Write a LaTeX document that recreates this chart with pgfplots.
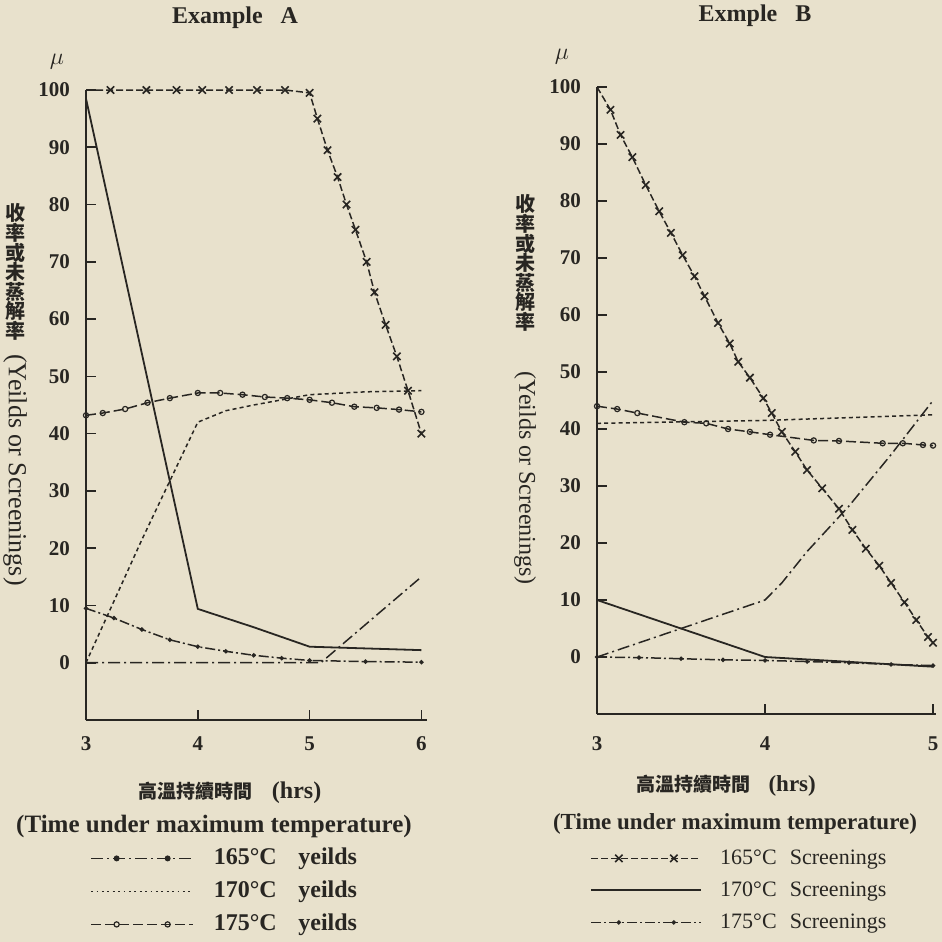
\documentclass[border=0pt]{standalone}
\usepackage{fontspec}
\setmainfont{Liberation Serif}
\newfontfamily\cjk{Noto Sans CJK TC}
\usepackage{pgfplots}
\pgfplotsset{compat=1.18}
\definecolor{paper}{RGB}{232,225,204}
\definecolor{ink}{RGB}{40,38,34}

\pgfplotsset{
  panel/.style={
    scale only axis,
    axis lines*=left,
    axis line style={ink, line width=1.3pt},
    ymin=-10, ymax=100,
    ytick={0,10,...,100},
    tick style={ink, line width=0.8pt},
    major tick length=5pt,
    tick align=inside,
    /pgf/number format/assume math mode=true,
    tick label style={font=\fontsize{10.5}{12}\selectfont\bfseries, text=ink},
    yticklabel style={xshift=-4.5pt},
    clip=false,
    legend cell align=left,
    every axis plot/.append style={ink, line width=0.75pt},
  },
  s165/.style={dash pattern=on 3.5pt off 1.5pt, mark=x, mark phase=2, mark size=2.6pt, mark options={solid, line width=0.8pt}},
  s170/.style={solid, line width=0.9pt},
  s175/.style={dash pattern=on 5pt off 1.5pt on 1pt off 1.5pt, mark=*, mark size=0.7pt, mark options={solid}},
  y165/.style={dash pattern=on 6pt off 2pt on 1pt off 2pt},
  y170/.style={dash pattern=on 2pt off 1.6pt},
  y175/.style={dash pattern=on 5pt off 2pt, mark=o, mark size=1.3pt, mark options={solid, line width=0.6pt}},
}

\begin{document}
\begin{tikzpicture}
\begin{scope}[x=0.5pt,y=-0.5pt]
  \fill[paper] (0,0) rectangle (942,942);
  % titles
  \node[font=\fontsize{12}{14}\selectfont\bfseries, text=ink] at (235,18) {Example\ \ \ A};
  \node[font=\fontsize{12}{14}\selectfont\bfseries, text=ink] at (755,16) {Exmple\ \ \ B};
  \node[font=\fontsize{12}{14}\selectfont, text=ink] at (57,62) {$\mu$};
  \node[font=\fontsize{12}{14}\selectfont, text=ink] at (562,57) {$\mu$};
  % y labels
  \node[font=\cjk\bfseries\fontsize{10}{9.8}\selectfont, text=ink, align=center, inner sep=0pt] at (15,272) {收\\率\\或\\未\\蒸\\解\\率};
  \node[font=\cjk\bfseries\fontsize{10}{9.8}\selectfont, text=ink, align=center, inner sep=0pt] at (525,263) {收\\率\\或\\未\\蒸\\解\\率};
  \node[font=\fontsize{13}{15}\selectfont, text=ink, rotate=-90, inner sep=0pt] at (15,470) {(Yeilds or Screenings)};
  \node[font=\fontsize{12}{14}\selectfont, text=ink, rotate=-90, inner sep=0pt] at (525,478) {(Yeilds or Screenings)};
  % x labels
  \node[font=\fontsize{12}{14}\selectfont\bfseries, text=ink] at (230,793) {{\cjk\bfseries\fontsize{9.5}{11}\selectfont 高溫持續時間}\hspace{0.8em}(hrs)};
  \node[font=\fontsize{12.5}{14}\selectfont\bfseries, text=ink] at (214,826) {(Time under maximum temperature)};
  \node[font=\fontsize{11.5}{14}\selectfont\bfseries, text=ink] at (726,786) {{\cjk\bfseries\fontsize{9.5}{11}\selectfont 高溫持續時間}\hspace{0.8em}(hrs)};
  \node[font=\fontsize{11.5}{14}\selectfont\bfseries, text=ink] at (735,824) {(Time under maximum temperature)};
\end{scope}

% ---------------- Panel A ----------------
\begin{axis}[panel,
  at={(43pt,-360pt)}, anchor=south west,
  width=170.5pt, height=315pt,
  xmin=3, xmax=6.05, xtick={3,4,5,6},
  xticklabel style={yshift=-5pt},
  legend style={at={(0.0117,-0.2)}, anchor=north west, draw=none, fill=none, inner sep=0pt,
    nodes={inner sep=0pt, text height=9pt, text depth=3pt, text=ink, font=\fontsize{12}{14}\selectfont\bfseries},
    column sep=10pt, row sep=4.5pt},
  legend image code/.code={\draw[mark repeat=2, mark phase=2, #1] plot coordinates {(0pt,0pt)(12.75pt,0pt)(25.5pt,0pt)(38.25pt,0pt)(51pt,0pt)};},
]
\addplot[y165, legend image post style={mark=*, mark size=1.1pt, mark options={solid}}] coordinates {(3,0)(4,0)(5,0)(5.1,0)(6,15)};
\addlegendentry{165°C\hspace{0.9em}yeilds}
\addplot[y170, legend image post style={dash pattern=on 0.9pt off 1.8pt}] coordinates {(3,0)(3.5,21.5)(4,42)(4.25,44)(4.5,45)(5,46.8)(5.5,47.3)(6,47.5)};
\addlegendentry{170°C\hspace{0.9em}yeilds}
\addplot[y175] coordinates {(3,43.2)(3.15,43.6)(3.35,44.3)(3.55,45.4)(3.75,46.2)(4,47.1)(4.2,47.1)(4.4,46.8)(4.6,46.4)(4.8,46.2)(5,45.9)(5.2,45.4)(5.4,44.7)(5.6,44.5)(5.8,44.2)(6,43.8)};
\addlegendentry{175°C\hspace{0.9em}yeilds}
\addplot[s165, forget plot] coordinates {(3,100)(3.22,100)(3.54,100)(3.81,100)(4.04,100)(4.28,100)(4.53,100)(4.78,100)(5,99.5)(5.07,95)(5.16,89.5)(5.25,84.8)(5.33,80)(5.41,75.6)(5.51,70)(5.58,64.7)(5.68,59)(5.78,53.5)(5.88,47.5)(6,40)};
\addplot[s170, forget plot] coordinates {(3,98.5)(4,9.4)(4.5,6.2)(5,2.8)(5.5,2.5)(6,2.2)};
\addplot[s175, forget plot] coordinates {(3,9.5)(3.25,7.8)(3.5,5.8)(3.75,4.0)(4,2.8)(4.25,2.0)(4.5,1.3)(4.75,0.8)(5,0.4)(5.5,0.2)(6,0.1)};
\end{axis}

% ---------------- Panel B ----------------
\begin{axis}[panel,
  at={(298.5pt,-357pt)}, anchor=south west,
  width=169.7pt, height=313.5pt,
  xmin=3, xmax=5.02, xtick={3,4,5},
  xticklabel style={yshift=-8pt},
  legend style={at={(-0.0206,-0.2105)}, anchor=north west, draw=none, fill=none, inner sep=0pt,
    nodes={inner sep=0pt, text height=9pt, text depth=3pt, text=ink, font=\fontsize{11}{14}\selectfont},
    column sep=9pt, row sep=4pt},
  legend image code/.code={\draw[mark repeat=2, mark phase=2, #1] plot coordinates {(0pt,0pt)(13.75pt,0pt)(27.5pt,0pt)(41.25pt,0pt)(55pt,0pt)};},
]
\addplot[s165] coordinates {(3,100)(3.08,96)(3.14,91.6)(3.21,87.7)(3.29,82.8)(3.37,78.2)(3.44,74.4)(3.51,70.5)(3.58,66.8)(3.64,63.3)(3.72,58.6)(3.79,55)(3.84,51.8)(3.91,49)(3.99,45.4)(4.04,42.8)(4.10,39.5)(4.18,36)(4.25,32.8)(4.34,29.6)(4.44,26)(4.52,22.3)(4.60,19)(4.68,16)(4.75,13)(4.83,9.6)(4.90,6.5)(4.97,3.5)(5,2.5)};
\addlegendentry{165°C\hspace{0.6em}Screenings}
\addplot[s170] coordinates {(3,10)(4,0)(5,-1.7)};
\addlegendentry{170°C\hspace{0.6em}Screenings}
\addplot[s175] coordinates {(3,0)(3.25,-0.1)(3.5,-0.3)(3.75,-0.5)(4,-0.6)(4.25,-0.8)(4.5,-1.0)(4.75,-1.3)(5,-1.5)};
\addlegendentry{175°C\hspace{0.6em}Screenings}
\addplot[y165, forget plot] coordinates {(3,0)(3.5,5)(4,10)(4.1,13)(4.25,18.5)(4.5,26.5)(4.75,35.5)(5,45)};
\addplot[y170, forget plot] coordinates {(3,41)(4,41.5)(5,42.5)};
\addplot[y175, forget plot] coordinates {(3,44)(3.12,43.5)(3.24,42.8)(3.52,41.2)(3.65,41)(3.78,40)(3.91,39.5)(4.03,39)(4.29,38)(4.44,37.9)(4.70,37.5)(4.82,37.5)(4.94,37.2)(5,37.1)};
\end{axis}
\pgfresetboundingbox
\path (0pt,0pt) rectangle (471pt,-471pt);
\end{tikzpicture}
\end{document}
